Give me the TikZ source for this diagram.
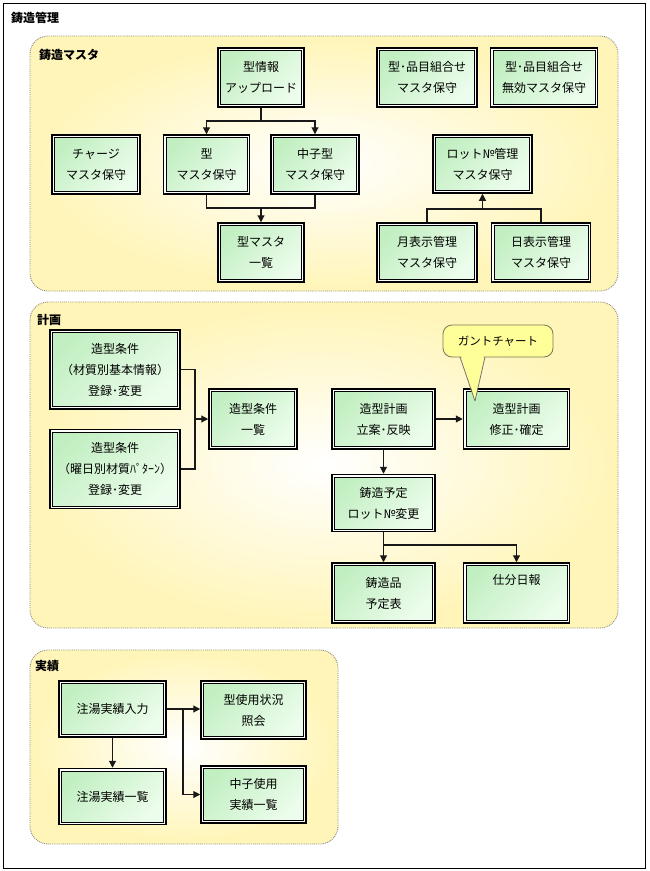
\documentclass[tikz,border=0pt]{standalone}
\usepackage{fontspec}
\setmainfont{Noto Sans CJK JP}
\usetikzlibrary{arrows.meta,positioning,calc}
\definecolor{kgreen}{HTML}{C2EFC2}
\definecolor{kgreenlt}{HTML}{EDFDED}
\definecolor{kyellow}{HTML}{FFF5B8}
\definecolor{kbubble}{HTML}{FFFF99}
\definecolor{kedge}{HTML}{77775A}
\definecolor{kdots}{HTML}{8A8A80}
\tikzset{
  kbox/.style={draw=black,line width=1.5pt,top color=kgreen,bottom color=kgreenlt,shading angle=45,
    minimum width=86pt,minimum height=59pt,inner sep=0pt,align=center,
    font=\fontsize{12pt}{21pt}\selectfont,
    path picture={
      \draw[white,line width=1.4pt] ([shift={(1.5pt,-1.5pt)}]path picture bounding box.north west)
        rectangle ([shift={(-1.5pt,1.5pt)}]path picture bounding box.south east);
      \draw[black,line width=0.7pt] ([shift={(2.6pt,-2.6pt)}]path picture bounding box.north west)
        rectangle ([shift={(-2.6pt,2.6pt)}]path picture bounding box.south east);}},
  sec/.style={draw=kdots,densely dotted,line width=0.9pt,rounded corners=18pt,
    inner color=white,outer color=kyellow},
  ttl/.style={anchor=west,inner sep=0pt,font=\fontsize{12pt}{14pt}\selectfont\bfseries},
  ln/.style={line width=1.1pt,draw=black!90},
  arr/.style={ln,-{Triangle[length=7pt,width=7pt]}},
  bubble/.style={draw=kedge,fill=kbubble,line width=0.8pt,rounded corners=9pt,
    minimum width=110pt,minimum height=32pt,font=\fontsize{11.5pt}{13pt}\selectfont},
}
\begin{document}
\begin{tikzpicture}[x=1pt,y=-1pt]
\useasboundingbox[fill=white] (0,0) rectangle (649,871);
\draw[line width=0.8pt] (3,3) rectangle (645,868);
\node[ttl] (title) at (11,18) {鋳造管理};

% 鋳造マスタ
\draw[sec] (30,36) rectangle (618,291);
\node[ttl] (mst) at (39,55) {鋳造マスタ};
\node[kbox] (up) at (261,77.5) {型情報\\アップロード};
\node[kbox,minimum width=88pt] (charge) at (96,164.5) {チャージ\\マスタ保守};
\node[kbox,right=22pt of charge] (kata) {型\\マスタ保守};
\node[kbox,minimum width=88pt,right=20pt of kata] (nakago) {中子型\\マスタ保守};
\node[kbox] (katalist) at (261,252.5) {型マスタ\\一覧};
\node[kbox,minimum width=100pt] (kumi) at (427,77.5) {型･品目組合せ\\マスタ保守};
\node[kbox,minimum width=107pt,right=12pt of kumi] (mukou) {型･品目組合せ\\無効マスタ保守};
\node[kbox,minimum width=99pt,minimum height=58pt] (lot) at (482.5,164) {ロット№管理\\マスタ保守};
\node[kbox,minimum width=100pt] (tsuki) at (427,252.5) {月表示管理\\マスタ保守};
\node[kbox,minimum width=99pt,right=13pt of tsuki] (hi) {日表示管理\\マスタ保守};
\coordinate (j1) at (261,121);
\coordinate (j2) at (261,208);
\coordinate (j3) at (482.5,209);
\draw[ln] (up.south) -- (j1);
\draw[arr] (j1) -| (kata.north);
\draw[arr] (j1) -| (nakago.north);
\draw[ln] (kata.south) |- (j2) -| (nakago.south);
\draw[arr] (j2) -- (katalist.north);
\draw[ln] (tsuki.north) |- (j3) -| (hi.north);
\draw[arr] (j3) -- (lot.south);

% 計画
\draw[sec] (30,302) rectangle (618,628);
\node[ttl] (plan-ttl) at (37,320) {計画};
\node[kbox,minimum width=130pt,minimum height=79pt] (jou1) at (115,369.5) {造型条件\\（材質別基本情報）\\登録･変更};
\node[kbox,minimum width=130pt,minimum height=79pt,below=19pt of jou1] (jou2) {造型条件\\（曜日別材質ﾊﾟﾀｰﾝ）\\登録･変更};
\node[kbox,minimum width=88pt,minimum height=60pt] (joulist) at (253,419) {造型条件\\一覧};
\node[kbox,minimum width=103pt,minimum height=60pt] (plan) at (383.5,419) {造型計画\\立案･反映};
\node[kbox,minimum width=106pt,minimum height=60pt,right=27pt of plan] (fix) {造型計画\\修正･確定};
\node[kbox,minimum width=103pt,minimum height=57pt,below=24pt of plan] (yotei) {鋳造予定\\ロット№変更};
\node[kbox,minimum width=103pt,minimum height=60pt,below=30pt of yotei] (hin) {鋳造品\\予定表};
\node[kbox,minimum width=106pt,minimum height=60pt,right=27pt of hin] (shiwake) {仕分日報\\\strut};
\coordinate (j4) at (195,419);
\coordinate (j5) at (383.5,545);
\draw[ln] (jou1.east) -| (j4) |- (jou2.east);
\draw[arr] (j4) -- (joulist.west);
\draw[arr] (plan.east) -- (fix.west);
\draw[arr] (plan.south) -- (yotei.north);
\draw[ln] (yotei.south) -- (j5);
\draw[arr] (j5) -- (hin.north);
\draw[arr] (j5) -| (shiwake.north);
% ガントチャート
\node[bubble] (gantt) at (498,341) {ガントチャート};
\coordinate (gtip) at (475,401);
\fill[kbubble] (461,355) -- (gtip) -- (484,355) -- cycle;
\draw[kedge,line width=0.8pt,line join=round] (460,357) -- (gtip) -- (485,357);

% 実績
\draw[sec] (30,650) rectangle (338,844);
\node[ttl] (res-ttl) at (35,666) {実績};
\node[kbox,minimum width=107pt,minimum height=56pt] (nyu) at (112.5,709) {注湯実績入力};
\node[kbox,minimum width=107pt,minimum height=56pt,below=30pt of nyu] (nyulist) {注湯実績一覧};
\node[kbox,minimum width=105pt,minimum height=58pt] (katashiyo) at (253.5,710) {型使用状況\\照会};
\node[kbox,minimum width=105pt,minimum height=57pt] (nakashiyo) at (253.5,794.5) {中子使用\\実績一覧};
\coordinate (j6) at (183,709);
\draw[arr] (nyu.east) -- (katashiyo.west |- nyu.east);
\draw[arr] (j6) |- (nakashiyo.west);
\draw[arr] (nyu.south) -- (nyulist.north);
\end{tikzpicture}
\end{document}
